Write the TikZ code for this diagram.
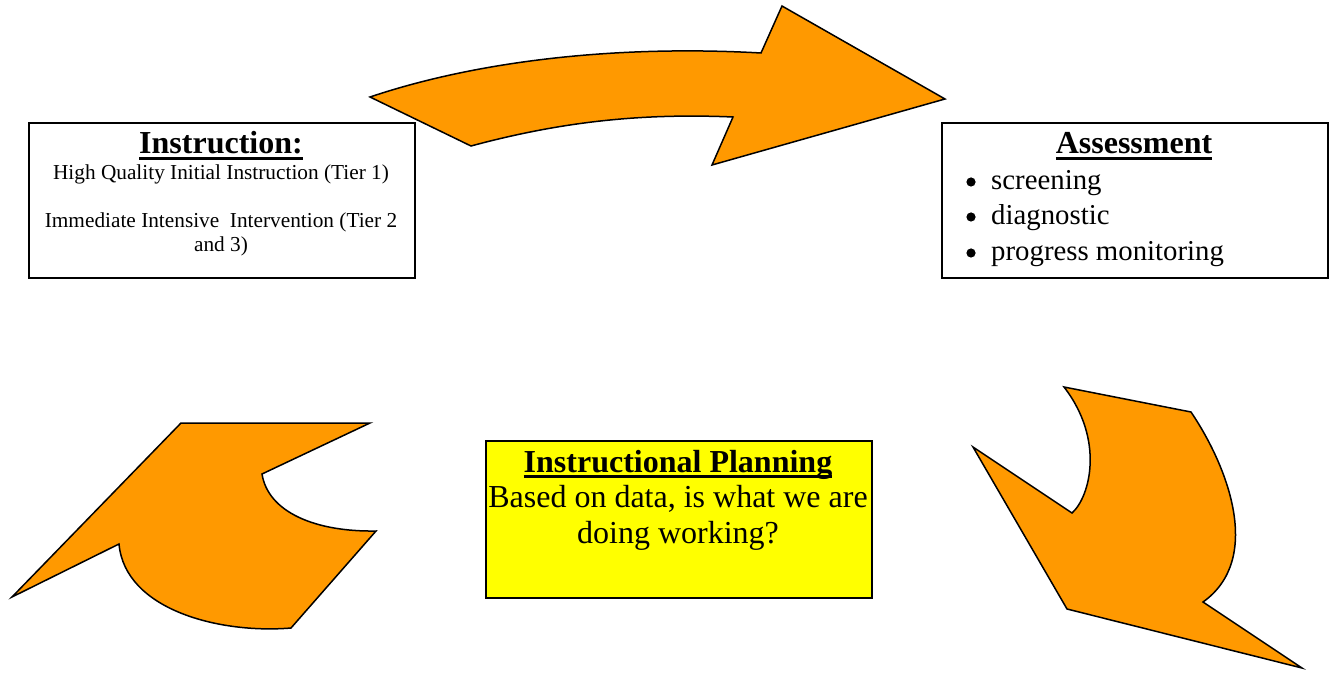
\documentclass[tikz,border=0pt]{standalone}
\usepackage{fontspec}
\setmainfont{Liberation Serif}
\definecolor{arroworange}{HTML}{FF9900}
\definecolor{planyellow}{HTML}{FFFF00}
\newcommand\ulhead[1]{\setbox0\hbox{#1}\rlap{\rule[-6pt]{\wd0}{2.8pt}}\box0}
\newcommand\headfont{\fontsize{32pt}{36pt}\selectfont\bfseries}
\newcommand\smallfont{\fontsize{21.3pt}{24pt}\selectfont}
\newcommand\assessfont{\fontsize{28.8pt}{34pt}\selectfont}
\newcommand\planfont{\fontsize{32pt}{36pt}\selectfont}
\begin{document}
\begin{tikzpicture}[x=1pt,y=-1pt,
  arrowshape/.style={fill=arroworange, draw=black, line width=1.5pt, line join=miter},
  boxshape/.style={draw=black, line width=1.8pt, inner sep=0pt, anchor=north west},
  txt/.style={inner sep=0pt, anchor=base},
  bulletdot/.style={fill=black}]
\useasboundingbox (0,0) rectangle (1331,676);

% arrows
\draw[arrowshape] (370,97) .. controls (480,60) and (620,45) .. (761,53)
  -- (782,6) -- (945,99) -- (712,165) -- (733,117)
  .. controls (640,113) and (560,122) .. (471,146) -- cycle;
\draw[arrowshape] (12,597) -- (181,423) -- (370,423) -- (262,474)
  .. controls (268,512) and (315,532) .. (376,531) -- (291,628)
  .. controls (220,634) and (125,610) .. (119,544) -- cycle;
\draw[arrowshape] (1064,387) -- (1191,412)
  .. controls (1230,470) and (1262,560) .. (1203,602) -- (1302,668)
  -- (1067,609) -- (973,447) -- (1072,513)
  .. controls (1090,497) and (1105,440) .. (1064,387) -- cycle;

% boxes
\node[boxshape, fill=white, minimum width=386pt, minimum height=155pt] (instr) at (28,122) {};
\node[boxshape, fill=white, minimum width=386pt, minimum height=155pt] (assess) at (941,122) {};
\node[boxshape, fill=planyellow, minimum width=386pt, minimum height=157pt] (plan) at (485,440) {};

% instruction text
\node[txt] (instrh) at (221,154) {\headfont\ulhead{Instruction:}};
\node[txt] (instr1) at (221,180) {\smallfont High Quality Initial Instruction (Tier 1)};
\node[txt] (instr2) at (221,228) {\smallfont Immediate Intensive \ Intervention (Tier 2};
\node[txt] (instr3) at (221,252) {\smallfont and 3)};

% assessment text
\node[txt] (assessh) at (1134,154) {\headfont\ulhead{Assessment}};
\fill[bulletdot] (971,182) circle (4.6pt);
\fill[bulletdot] (971,217) circle (4.6pt);
\fill[bulletdot] (971,253) circle (4.6pt);
\node[txt, anchor=base west] (as1) at (991,190) {\assessfont screening};
\node[txt, anchor=base west] (as2) at (991,225) {\assessfont diagnostic};
\node[txt, anchor=base west] (as3) at (991,261) {\assessfont progress monitoring};

% planning text
\node[txt] (planh) at (678,472) {\headfont\ulhead{Instructional Planning}};
\node[txt] (plan1) at (678,507) {\planfont Based on data, is what we are};
\node[txt] (plan2) at (678,543) {\planfont doing working?};
\end{tikzpicture}
\end{document}
